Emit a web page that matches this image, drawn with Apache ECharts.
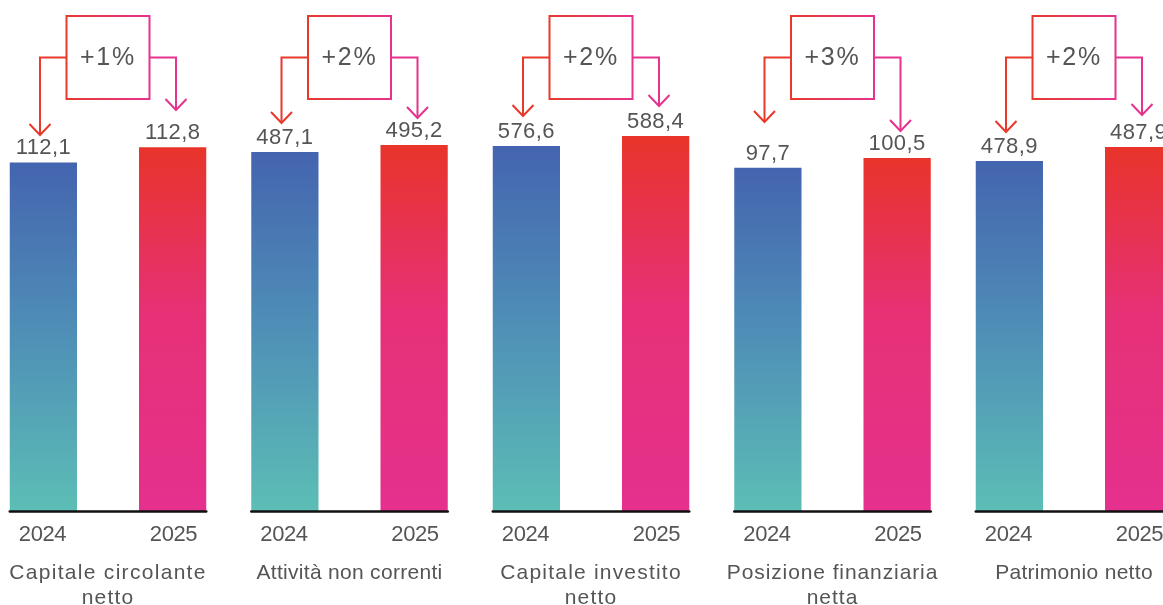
<!DOCTYPE html>
<html>
<head>
<meta charset="utf-8">
<script src="https://cdn.jsdelivr.net/npm/echarts@6/dist/echarts.min.js"></script>
<style>
html,body{margin:0;padding:0;background:#fff;}
#chart{width:1163px;height:605px;}
</style>
</head>
<body>
<div id="chart"></div>
<script>
// ---- data ----
const categories = ['Capitale circolante\nnetto', 'Attività non correnti', 'Capitale investito\nnetto', 'Posizione finanziaria\nnetta', 'Patrimonio netto'];
const years = ['2024', '2025'];
const values2024 = [112.1, 487.1, 576.6, 97.7, 478.9];
const values2025 = [112.8, 495.2, 588.4, 100.5, 487.9];
const changeLabels = ['+1%', '+2%', '+2%', '+3%', '+2%'];
// per-panel value-axis ranges (each panel has its own scale)
const axisMin = [95.9, 71.7, 145.9, 0, 253.9];
const axisMax = [115.0, 547.3, 630.9, 117.0, 518.1];

const fmt = v => v.toFixed(1).replace('.', ',');

// ---- text tracking (letter spacing, px) for some text lines, applied when drawn ----
const tracking = {
  'Capitale circolante': 1.3, 'Attività non correnti': 0.3, 'Capitale investito': 1.2,
  'Posizione finanziaria': 0.9, 'Patrimonio netto': 0.3, 'netto': 1.2, 'netta': 1.0,
  '+1%': 1.8, '+2%': 1.8, '+3%': 1.8, '2024': -0.4, '2025': -0.4
};
values2024.concat(values2025).forEach(v => { tracking[fmt(v)] = 0.4; });
(function () {
  const proto = CanvasRenderingContext2D.prototype;
  const orig = proto.fillText;
  proto.fillText = function (t, x, y, w) {
    const s = tracking[t];
    if (!('letterSpacing' in this)) {
      return w === undefined ? orig.call(this, t, x, y) : orig.call(this, t, x, y, w);
    }
    this.save();
    const f = this.font;
    this.letterSpacing = (s || 0) + 'px';
    this.font = f;
    const r = w === undefined ? orig.call(this, t, x, y) : orig.call(this, t, x, y, w);
    this.restore();
    return r;
  };
})();

// ---- layout ----
const FONT = "'Liberation Sans', Arial, sans-serif";
const TXT = '#555555';
const panelStep = 241.5, gridLeft0 = 9.75, gridW = 196.5, gridTop = 100, gridBottomY = 511;
const band = gridW / 3;
const arrowTipY = [[135, 110], [123, 118], [116, 106], [122, 131], [132, 115]];
const RED = '#E8392B', PINK = '#E6338F';

const grad2024 = new echarts.graphic.LinearGradient(0, 0, 0, 1, [
  {offset: 0, color: '#4464AF'}, {offset: 0.5, color: '#4F90B7'}, {offset: 1, color: '#5CBEB5'}]);
const grad2025 = new echarts.graphic.LinearGradient(0, 0, 0, 1, [
  {offset: 0, color: '#E8342A'}, {offset: 0.45, color: '#E63176'}, {offset: 1, color: '#E5308E'}]);

const grids = [], xAxes = [], yAxes = [], series = [], graphics = [];
categories.forEach((cat, i) => {
  const left = gridLeft0 + panelStep * i;
  grids.push({left: left, width: gridW, top: gridTop, bottom: 605 - gridBottomY,
    containLabel: false, outerBoundsMode: 'none'});
  xAxes.push({
    type: 'category', gridIndex: i, data: [years[0], '', years[1]], z: 5,
    axisTick: {show: false},
    axisLine: {onZero: false, lineStyle: {color: '#111', width: 2.5}},
    axisLabel: {interval: 0, margin: 13, color: TXT, fontSize: 22, fontFamily: FONT}
  });
  yAxes.push({type: 'value', gridIndex: i, min: axisMin[i], max: axisMax[i], show: false, splitLine: {show: false}});
  const lbl = {show: true, position: 'top', distance: 3, color: TXT, fontSize: 22, fontFamily: FONT, formatter: p => fmt(p.value)};
  series.push({type: 'bar', name: years[0], xAxisIndex: i, yAxisIndex: i, data: [values2024[i], '-', '-'],
    barWidth: 69, barGap: '-100%', itemStyle: {color: grad2024}, label: lbl, animation: false});
  series.push({type: 'bar', name: years[1], xAxisIndex: i, yAxisIndex: i, data: ['-', '-', values2025[i]],
    barWidth: 69, barGap: '-100%', itemStyle: {color: grad2025}, label: lbl, animation: false});

  const cx = left + gridW / 2;
  const c1 = left + band / 2, c2 = left + band * 2.5;
  const lx = c1 - 2.5, rx = c2 + 2.5;
  const boxL = cx - 41.5, boxR = cx + 41.5, boxT = 16, boxB = 99, midY = 57.5;
  // panel title
  graphics.push({type: 'text', x: cx, y: 561, silent: true,
    style: {text: cat, align: 'center', verticalAlign: 'top', fill: TXT, font: '21px ' + FONT, lineHeight: 25}});
  // change box
  graphics.push({type: 'rect', shape: {x: boxL, y: boxT, width: boxR - boxL, height: boxB - boxT},
    style: {fill: 'none', lineWidth: 2, stroke: new echarts.graphic.LinearGradient(0, 0, 1, 0, [{offset: 0, color: RED}, {offset: 1, color: PINK}])}});
  graphics.push({type: 'text', x: cx, y: midY + 1, style: {text: changeLabels[i], align: 'center', verticalAlign: 'middle', fill: TXT, font: '25px ' + FONT}});
  // left arrow
  const t1 = arrowTipY[i][0], t2 = arrowTipY[i][1];
  graphics.push({type: 'polyline', shape: {points: [[boxL, midY], [lx, midY], [lx, t1]]}, style: {stroke: RED, lineWidth: 2, fill: null}});
  graphics.push({type: 'polyline', shape: {points: [[lx - 10.5, t1 - 11], [lx, t1], [lx + 10.5, t1 - 11]]}, style: {stroke: RED, lineWidth: 2, fill: null}});
  // right arrow
  graphics.push({type: 'polyline', shape: {points: [[boxR, midY], [rx, midY], [rx, t2]]}, style: {stroke: PINK, lineWidth: 2, fill: null}});
  graphics.push({type: 'polyline', shape: {points: [[rx - 10.5, t2 - 11], [rx, t2], [rx + 10.5, t2 - 11]]}, style: {stroke: PINK, lineWidth: 2, fill: null}});
});

const chart = echarts.init(document.getElementById('chart'), null, {renderer: 'canvas'});
chart.setOption({
  animation: false,
  backgroundColor: '#ffffff',
  grid: grids, xAxis: xAxes, yAxis: yAxes, series: series,
  graphic: graphics
});
</script>
</body>
</html>
